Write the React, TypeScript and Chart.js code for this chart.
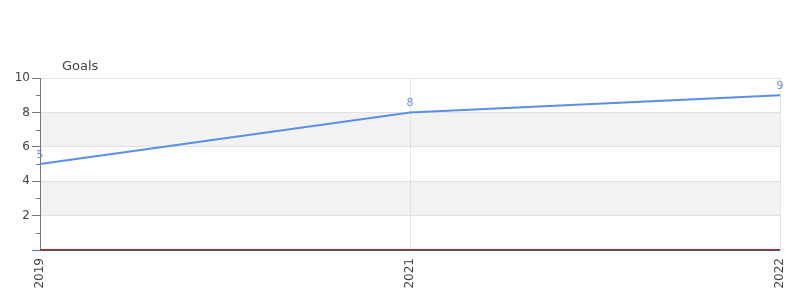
import React, { useEffect, useRef } from "react";
import { Chart, registerables } from "chart.js";

Chart.register(...registerables);

const categories = ["2019", "2021", "2022"];
const goals = [5, 8, 9];
const seriesLabel = "Goals";
const yTickValues = [2, 4, 6, 8, 10];

const FONT = "'DejaVu Sans', sans-serif";

const decorPlugin = {
  id: "decor",
  beforeDraw(chart: any) {
    const { ctx, chartArea, scales } = chart;
    const y = scales.y;
    ctx.save();
    ctx.fillStyle = "#f2f2f2";
    [[2, 4], [6, 8]].forEach(([a, b]) => {
      const y1 = y.getPixelForValue(b);
      const y2 = y.getPixelForValue(a);
      ctx.fillRect(chartArea.left, y1, chartArea.right - chartArea.left, y2 - y1);
    });
    ctx.restore();
  },
  afterDraw(chart: any) {
    const { ctx, chartArea, scales } = chart;
    const y = scales.y;
    ctx.save();
    ctx.strokeStyle = "#777";
    ctx.lineWidth = 1;
    for (let v = 1; v < 10; v += 2) {
      const py = Math.round(y.getPixelForValue(v)) + 0.5;
      ctx.beginPath();
      ctx.moveTo(chartArea.left - 4, py);
      ctx.lineTo(chartArea.left, py);
      ctx.stroke();
    }
    const by = Math.round(y.getPixelForValue(0));
    ctx.strokeStyle = "#c42222";
    ctx.beginPath();
    ctx.moveTo(chartArea.left, by - 0.5);
    ctx.lineTo(chartArea.right, by - 0.5);
    ctx.stroke();
    ctx.strokeStyle = "#555";
    ctx.beginPath();
    ctx.moveTo(chartArea.left, by + 0.5);
    ctx.lineTo(chartArea.right, by + 0.5);
    ctx.stroke();
    ctx.fillStyle = "#444";
    ctx.font = "13px " + FONT;
    ctx.textAlign = "left";
    ctx.textBaseline = "middle";
    ctx.fillText(seriesLabel, 62, 67);
    const meta = chart.getDatasetMeta(0);
    ctx.fillStyle = "#7094d4";
    ctx.font = "11px " + FONT;
    ctx.textAlign = "center";
    ctx.textBaseline = "middle";
    meta.data.forEach((pt: any, i: number) => {
      ctx.fillText(String(goals[i]), pt.x, pt.y - 9);
    });
    ctx.restore();
  },
};

export default function App() {
  const ref = useRef<HTMLCanvasElement>(null);
  useEffect(() => {
    const chart = new Chart(ref.current!, {
      type: "line",
      data: {
        labels: categories,
        datasets: [
          {
            label: seriesLabel,
            data: goals,
            borderColor: "#5b8fe6",
            borderWidth: 2,
            pointRadius: 0,
            tension: 0,
            fill: false,
          },
        ],
      },
      options: {
        animation: false,
        responsive: false,
        layout: { padding: { left: 0, right: 20, top: 78, bottom: 0 } },
        plugins: { legend: { display: false }, tooltip: { enabled: false } },
        scales: {
          x: {
            type: "category",
            offset: false,
            grid: { color: "#e2e2e2", drawTicks: false },
            border: { display: false },
            ticks: {
              maxRotation: 90,
              minRotation: 90,
              padding: 8,
              color: "#444",
              font: { family: FONT, size: 12 },
            },
            afterFit(scale: any) {
              scale.height = 50;
              scale.paddingLeft = 0;
              scale.paddingRight = 0;
            },
          },
          y: {
            min: 0,
            max: 10,
            afterBuildTicks(scale: any) {
              scale.ticks = [0, ...yTickValues].map((v) => ({ value: v }));
            },
            grid: {
              color: (c: any) => (c.tick && c.tick.value === 0 ? "rgba(0,0,0,0)" : "#e2e2e2"),
              tickColor: "#777",
              tickLength: 8,
            },
            border: { color: "#777" },
            ticks: {
              color: "#444",
              padding: 2,
              font: { family: FONT, size: 12 },
              callback: (v: any) => (v === 0 ? "" : String(v)),
            },
            afterFit(scale: any) {
              scale.width = 40;
              scale.paddingTop = 0;
              scale.paddingBottom = 0;
            },
          },
        },
      },
      plugins: [decorPlugin],
    });
    return () => chart.destroy();
  }, []);
  return (
    <div style={{ position: "fixed", left: 0, top: 0, width: 800, height: 300, background: "#fff" }}>
      <canvas ref={ref} width={800} height={300} style={{ width: 800, height: 300 }} />
    </div>
  );
}
